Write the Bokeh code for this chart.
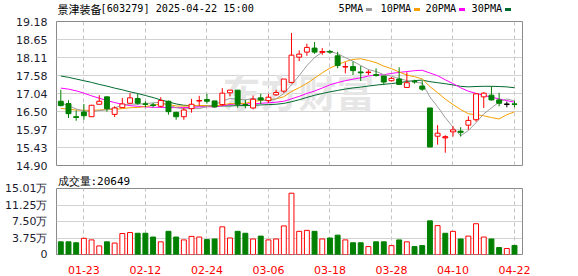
from bokeh.plotting import figure
from bokeh.layouts import column
from bokeh.models import Label, FixedTicker, Range1d, ColumnDataSource, BoxAnnotation
from bokeh.embed import file_html
from bokeh.resources import INLINE

# ---------------- data ----------------
dates = ["01-20", "01-21", "01-22", "01-23", "01-24", "01-27", "02-05", "02-06", "02-07", "02-10",
         "02-11", "02-12", "02-13", "02-14", "02-17", "02-18", "02-19", "02-20", "02-21", "02-24",
         "02-25", "02-26", "02-27", "02-28", "03-03", "03-04", "03-05", "03-06", "03-07", "03-10",
         "03-11", "03-12", "03-13", "03-14", "03-17", "03-18", "03-19", "03-20", "03-21", "03-24",
         "03-25", "03-26", "03-27", "03-28", "03-31", "04-01", "04-02", "04-03", "04-07", "04-08",
         "04-09", "04-10", "04-11", "04-14", "04-15", "04-16", "04-17", "04-18", "04-21", "04-22"]

opens = [16.81, 16.74, 16.35, 16.49, 16.35, 16.72, 16.94, 16.42, 16.62, 16.75,
         16.89, 16.73, 16.70, 16.66, 16.81, 16.48, 16.35, 16.59, 16.82, 16.86,
         16.82, 16.71, 17.06, 17.14, 16.71, 16.61, 16.91, 16.83, 17.00, 17.11,
         17.37, 18.12, 18.27, 18.39, 18.27, 18.29, 18.16, 17.83, 17.84, 17.68,
         17.66, 17.60, 17.56, 17.42, 17.47, 17.22, 17.40, 17.26, 16.61, 15.77,
         15.72, 15.90, 15.92, 16.10, 16.26, 16.94, 16.99, 16.85, 16.72, 16.73]
highs = [17.15, 16.84, 16.54, 16.73, 16.70, 16.99, 16.95, 16.66, 16.91, 17.05,
         17.05, 16.81, 16.76, 16.93, 16.83, 16.50, 16.62, 16.88, 16.97, 17.03,
         16.82, 17.20, 17.14, 17.14, 16.85, 16.98, 17.03, 17.03, 17.15, 17.47,
         18.84, 18.32, 18.52, 18.57, 18.39, 18.33, 18.28, 17.97, 17.99, 17.86,
         17.74, 17.79, 17.56, 17.53, 17.82, 17.67, 17.45, 17.41, 16.61, 16.10,
         15.80, 16.07, 16.04, 16.36, 17.05, 17.08, 17.26, 17.06, 16.80, 16.82]
lows = [16.66, 16.31, 16.23, 16.26, 16.34, 16.72, 16.50, 16.34, 16.61, 16.74,
        16.71, 16.63, 16.63, 16.62, 16.41, 16.26, 16.26, 16.47, 16.68, 16.74,
        16.62, 16.67, 16.95, 16.62, 16.60, 16.57, 16.73, 16.76, 16.97, 17.06,
        17.34, 18.00, 18.16, 18.22, 18.19, 18.22, 17.79, 17.64, 17.59, 17.41,
        17.59, 17.54, 17.29, 17.40, 17.29, 17.22, 17.33, 17.12, 15.45, 15.52,
        15.28, 15.76, 15.76, 15.96, 16.20, 16.61, 16.83, 16.66, 16.63, 16.63]
closes = [16.68, 16.44, 16.33, 16.38, 16.69, 16.81, 16.59, 16.61, 16.73, 16.91,
          16.75, 16.72, 16.69, 16.83, 16.50, 16.35, 16.55, 16.72, 16.83, 16.81,
          16.64, 17.05, 17.14, 16.72, 16.70, 16.87, 16.85, 16.93, 17.07, 17.47,
          18.18, 18.21, 18.41, 18.27, 18.28, 18.28, 17.87, 17.84, 17.72, 17.66,
          17.67, 17.58, 17.38, 17.49, 17.31, 17.36, 17.39, 17.17, 15.45, 15.86,
          15.75, 15.96, 15.89, 16.24, 17.03, 17.05, 16.85, 16.75, 16.72, 16.72]

# volume in 万 (10k shares)
volumes = [2.88, 2.88, 2.67, 3.68, 3.32, 1.95, 2.88, 2.60, 4.77, 4.99,
           4.83, 4.83, 3.97, 2.88, 5.27, 3.97, 3.32, 4.12, 3.97, 3.39,
           3.53, 6.29, 3.75, 5.27, 4.83, 3.53, 4.18, 3.32, 3.53, 6.50,
           13.94, 5.27, 5.49, 5.27, 3.53, 3.75, 4.40, 3.32, 2.67, 2.67,
           1.80, 2.88, 2.88, 2.02, 3.32, 2.88, 1.80, 2.02, 7.65, 6.57,
           4.83, 5.27, 3.53, 4.18, 7.00, 3.97, 3.53, 1.58, 1.37, 2.06]
# 1 = red (up) volume bar, 0 = green
vol_up = [0, 0, 0, 1, 1, 1, 0, 1, 1, 1,
          0, 0, 0, 1, 0, 0, 1, 1, 1, 0,
          0, 1, 1, 0, 0, 1, 0, 1, 1, 1,
          1, 1, 1, 0, 1, 0, 0, 1, 0, 0,
          1, 0, 0, 1, 0, 1, 0, 0, 0, 1,
          0, 1, 0, 1, 1, 1, 0, 0, 1, 0]

# moving-average values before enough in-window closes exist
ma5_head = [16.76, 16.68, 16.58, 16.52]
ma10_head = [16.60, 16.57, 16.55, 16.54, 16.54, 16.55, 16.56, 16.57, 16.59]
ma20_head = [17.20, 17.17, 17.12, 17.05, 16.97, 16.90, 16.83, 16.77, 16.72, 16.68,
             16.66, 16.64, 16.63, 16.63, 16.62, 16.62, 16.62, 16.63, 16.64]
ma30_head = [17.56, 17.52, 17.47, 17.42, 17.37, 17.31, 17.26, 17.20, 17.15, 17.09,
             17.04, 16.98, 16.92, 16.85, 16.79, 16.73, 16.69, 16.68, 16.67, 16.67,
             16.67, 16.67, 16.67, 16.68, 16.68, 16.69, 16.70, 16.71, 16.72]

price_ticks = [14.90, 15.435, 15.97, 16.505, 17.04, 17.575, 18.11, 18.645, 19.18]
price_tick_labels = ["14.90", "15.43", "15.97", "16.50", "17.04", "17.58", "18.11", "18.65", "19.18"]
vol_ticks = [0, 3.7525, 7.505, 11.2575, 15.01]
vol_tick_labels = ["0", "3.75万", "7.50万", "11.25万", "15.01万"]
shown_dates = ["01-23", "02-12", "02-24", "03-06", "03-18", "03-28", "04-10", "04-22"]

title_name = "景津装备"
title_rest = "[603279] 2025-04-22 15:00"
vol_title = "成交量"
vol_title_rest = ":20649"
ma_names = ["5PMA", "10PMA", "20PMA", "30PMA"]

# ---------------- styles ----------------
RED = "#ff0000"
GREEN = "#008000"
BLACK = "#000000"
MA_COLORS = ["#9c9c9c", "#f5a000", "#ff00ff", "#006a2e"]
FRAME = "#8a8a8a"
HGRID = "#d2d2d2"
VGRID = "#c4c4c4"
MONO = "DejaVu Sans Mono"
CJK = "Noto Sans CJK SC"
TICKF = "DejaVu Sans"
W = 578
LB = 56  # left border (frame x origin)


def rolling(vals, n, head):
    out = list(head)
    for i in range(len(head), len(vals)):
        out.append(sum(vals[i - n + 1:i + 1]) / n)
    return out


n = len(closes)
xs = list(range(n))
tick_idx = [dates.index(d) for d in shown_dates]

cand_col = [RED if c > o else (GREEN if c < o else BLACK) for o, c in zip(opens, closes)]
cand_fill = ["#ffffff" if c > o else col for o, c, col in zip(opens, closes, cand_col)]
src = ColumnDataSource(dict(
    x=xs, o=opens, h=highs, l=lows, c=closes,
    top=[max(o, c) for o, c in zip(opens, closes)],
    bot=[min(o, c) for o, c in zip(opens, closes)],
    col=cand_col, fill=cand_fill,
))
flat_idx = [i for i in xs if abs(opens[i] - closes[i]) < 0.03]
flat_src = ColumnDataSource(dict(
    x0=[i - 0.32 for i in flat_idx], x1=[i + 0.32 for i in flat_idx],
    y=[closes[i] for i in flat_idx], col=[cand_col[i] for i in flat_idx],
))

XR = (-0.56, 60.04)

# ---------------- header strip ----------------
hdr = figure(width=W, height=15, output_backend="svg", toolbar_location=None,
             x_axis_location=None, y_axis_location=None,
             x_range=Range1d(0, 1), y_range=Range1d(0, 1),
             min_border_left=LB, min_border_right=56,
             min_border_top=0, min_border_bottom=0)
hdr.outline_line_color = None
hdr.background_fill_color = "#ffffff"
hdr.border_fill_color = "#ffffff"
hdr.grid.visible = False
HY = 7
hdr.add_layout(Label(x=57 - LB, y=HY, x_units="screen", y_units="screen", text=title_name,
                     text_font=CJK, text_font_size="11px", text_color="#000000",
                     text_baseline="middle"))
hdr.add_layout(Label(x=100 - LB, y=HY, x_units="screen", y_units="screen", text=title_rest,
                     text_font=MONO, text_font_size="10.2px", text_color="#000000",
                     text_baseline="middle"))
legend_x = [338, 380, 425, 471]
for name, lx, colr in zip(ma_names, legend_x, MA_COLORS):
    hdr.add_layout(Label(x=lx - LB, y=HY, x_units="screen", y_units="screen", text=name,
                         text_font=MONO, text_font_size="10.2px", text_color="#000000",
                         text_baseline="middle"))
    dx = lx - LB + len(name) * 6.1 + 3
    hdr.add_layout(BoxAnnotation(left=dx, right=dx + 6, bottom=HY - 2.5, top=HY + 0.5,
                                 left_units="screen", right_units="screen",
                                 bottom_units="screen", top_units="screen",
                                 fill_color=colr, fill_alpha=1.0, line_color=None))

# ---------------- price figure ----------------
p = figure(width=W, height=156, output_backend="svg", toolbar_location=None,
           x_range=Range1d(*XR), y_range=Range1d(price_ticks[0], price_ticks[-1]),
           min_border_left=LB, min_border_right=56, min_border_top=6, min_border_bottom=6)
p.background_fill_color = "#ffffff"
p.border_fill_color = "#ffffff"
p.outline_line_color = FRAME
p.outline_line_width = 1
p.xaxis.visible = False
p.yaxis.ticker = FixedTicker(ticks=price_ticks)
p.yaxis.major_label_overrides = {t: s for t, s in zip(price_ticks, price_tick_labels)}
p.yaxis.axis_line_color = None
p.yaxis.major_tick_line_color = None
p.yaxis.minor_tick_line_color = None
p.yaxis.major_label_standoff = 3
p.yaxis.major_label_text_font = TICKF
p.yaxis.major_label_text_font_size = "11px"
p.yaxis.major_label_text_color = "#1c1c30"
p.ygrid.grid_line_color = HGRID
p.xgrid.ticker = FixedTicker(ticks=tick_idx)
p.xgrid.grid_line_color = VGRID
p.xgrid.grid_line_dash = "4 3"

# watermark
p.add_layout(Label(x=222 - LB, y=75, x_units="screen", y_units="screen", text="东方财富",
                   text_font=CJK, text_font_size="38px", text_font_style="bold",
                   text_color="#e6e6e6", text_baseline="middle", level="underlay"))

# moving averages
mas = [rolling(closes, 5, ma5_head), rolling(closes, 10, ma10_head),
       rolling(closes, 20, ma20_head), rolling(closes, 30, ma30_head)]
for vals, colr in zip(mas[::-1], MA_COLORS[::-1]):
    p.line(xs, vals, line_color=colr, line_width=1)

# candles
p.segment(x0="x", y0="l", x1="x", y1="h", line_color="col", line_width=1, source=src)
p.vbar(x="x", width=0.64, top="top", bottom="bot", fill_color="fill", line_color="col",
       line_width=1, source=src)
p.segment(x0="x0", y0="y", x1="x1", y1="y", line_color="col", line_width=1.2, source=flat_src)

# ---------------- volume figure ----------------
v = figure(width=W, height=105, output_backend="svg", toolbar_location=None,
           title=vol_title + vol_title_rest,
           x_range=Range1d(*XR), y_range=Range1d(0, vol_ticks[-1]),
           min_border_left=LB, min_border_right=56, min_border_top=15, min_border_bottom=21)
v.title.text_font = MONO
v.title.text_font_size = "11px"
v.title.text_font_style = "normal"
v.title.text_color = "#000000"
v.title.align = "left"
v.title.offset = 1
v.title.standoff = 2
v.background_fill_color = "#ffffff"
v.border_fill_color = "#ffffff"
v.outline_line_color = FRAME
v.xaxis.ticker = FixedTicker(ticks=tick_idx)
v.xaxis.major_label_overrides = {i: d for i, d in zip(tick_idx, shown_dates)}
v.xaxis.axis_line_color = None
v.xaxis.major_tick_line_color = None
v.xaxis.minor_tick_line_color = None
v.xaxis.major_label_standoff = 5
v.xaxis.major_label_text_font = TICKF
v.xaxis.major_label_text_font_size = "11px"
v.xaxis.major_label_text_color = RED
v.yaxis.ticker = FixedTicker(ticks=vol_ticks)
v.yaxis.major_label_overrides = {t: s for t, s in zip(vol_ticks, vol_tick_labels)}
v.yaxis.axis_line_color = None
v.yaxis.major_tick_line_color = None
v.yaxis.minor_tick_line_color = None
v.yaxis.major_label_standoff = 3
v.yaxis.major_label_text_font = TICKF
v.yaxis.major_label_text_font_size = "11px"
v.yaxis.major_label_text_color = "#1c1c30"
v.ygrid.grid_line_color = HGRID
v.xgrid.grid_line_color = VGRID
v.xgrid.grid_line_dash = "4 3"

vsrc = ColumnDataSource(dict(
    x=xs, v=volumes,
    col=[RED if u else GREEN for u in vol_up],
    fill=["#ffffff" if u else GREEN for u in vol_up],
))
v.vbar(x="x", width=0.64, top="v", bottom=0, fill_color="fill", line_color="col",
       line_width=1, source=vsrc)

layout = column(hdr, p, v, spacing=0)
open("out.html", "w").write(file_html(layout, INLINE))
